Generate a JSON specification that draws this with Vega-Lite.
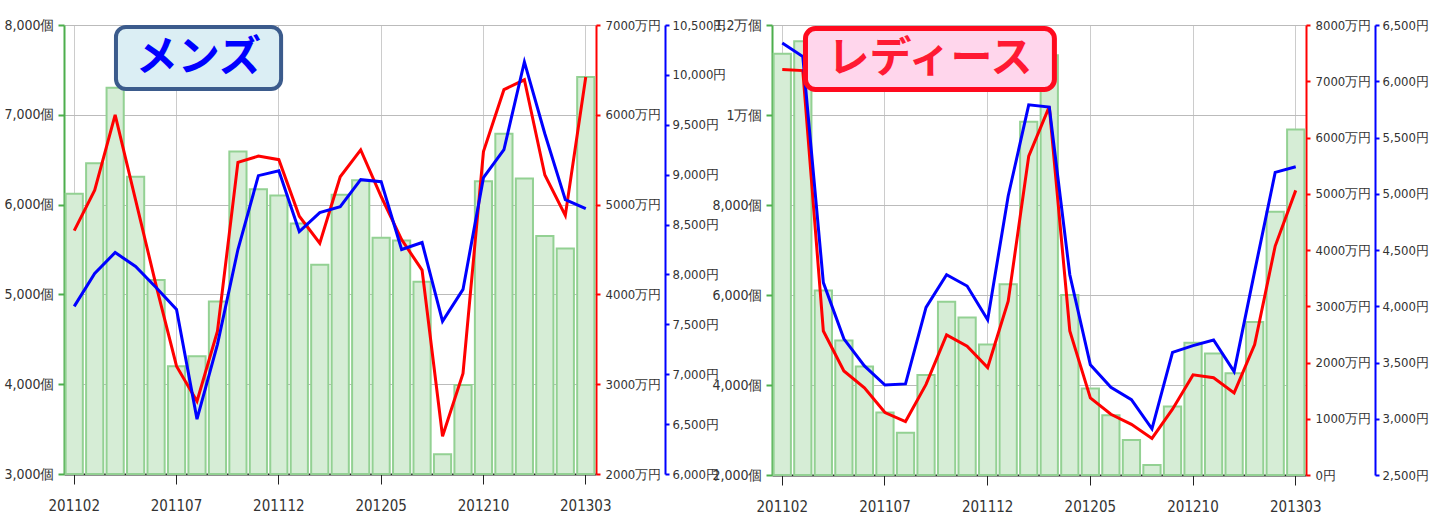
{
  "$schema": "https://vega.github.io/schema/vega-lite/v6.json",
  "background": "white",
  "padding": {"left": 3, "top": 18, "right": 0, "bottom": 0},
  "spacing": 176,
  "bounds": "flush",
  "datasets": {
    "mens": [
      {"month": "201102", "qty": 6120, "sales": 4710, "price": 7680},
      {"month": "201103", "qty": 6460, "sales": 5160, "price": 8010},
      {"month": "201104", "qty": 7300, "sales": 6000, "price": 8220},
      {"month": "201105", "qty": 6310, "sales": 5050, "price": 8080},
      {"month": "201106", "qty": 5160, "sales": 4100, "price": 7870},
      {"month": "201107", "qty": 4200, "sales": 3200, "price": 7650},
      {"month": "201108", "qty": 4310, "sales": 2810, "price": 6550},
      {"month": "201109", "qty": 4920, "sales": 3590, "price": 7300},
      {"month": "201110", "qty": 6590, "sales": 5470, "price": 8250},
      {"month": "201111", "qty": 6170, "sales": 5540, "price": 8990},
      {"month": "201112", "qty": 6100, "sales": 5500, "price": 9040},
      {"month": "201201", "qty": 5790, "sales": 4870, "price": 8430},
      {"month": "201202", "qty": 5330, "sales": 4570, "price": 8620},
      {"month": "201203", "qty": 6110, "sales": 5310, "price": 8680},
      {"month": "201204", "qty": 6270, "sales": 5610, "price": 8950},
      {"month": "201205", "qty": 5630, "sales": 5090, "price": 8930},
      {"month": "201206", "qty": 5600, "sales": 4610, "price": 8250},
      {"month": "201207", "qty": 5140, "sales": 4270, "price": 8320},
      {"month": "201208", "qty": 3220, "sales": 2420, "price": 7530},
      {"month": "201209", "qty": 3990, "sales": 3120, "price": 7850},
      {"month": "201210", "qty": 6260, "sales": 5590, "price": 8970},
      {"month": "201211", "qty": 6790, "sales": 6280, "price": 9250},
      {"month": "201212", "qty": 6290, "sales": 6390, "price": 10130},
      {"month": "201301", "qty": 5650, "sales": 5330, "price": 9410},
      {"month": "201302", "qty": 5510, "sales": 4880, "price": 8750},
      {"month": "201303", "qty": 7420, "sales": 6420, "price": 8660}
    ],
    "ladies": [
      {"month": "201102", "qty": 11360, "sales": 7210, "price": 6340},
      {"month": "201103", "qty": 11640, "sales": 7190, "price": 6220},
      {"month": "201104", "qty": 6100, "sales": 2560, "price": 4210},
      {"month": "201105", "qty": 4990, "sales": 1850, "price": 3710},
      {"month": "201106", "qty": 4410, "sales": 1550, "price": 3470},
      {"month": "201107", "qty": 3390, "sales": 1110, "price": 3300},
      {"month": "201108", "qty": 2940, "sales": 950, "price": 3310},
      {"month": "201109", "qty": 4220, "sales": 1610, "price": 3990},
      {"month": "201110", "qty": 5850, "sales": 2490, "price": 4280},
      {"month": "201111", "qty": 5500, "sales": 2290, "price": 4180},
      {"month": "201112", "qty": 4900, "sales": 1910, "price": 3880},
      {"month": "201201", "qty": 6240, "sales": 3090, "price": 4980},
      {"month": "201202", "qty": 9850, "sales": 5670, "price": 5790},
      {"month": "201203", "qty": 11330, "sales": 6550, "price": 5770},
      {"month": "201204", "qty": 6000, "sales": 2560, "price": 4280},
      {"month": "201205", "qty": 3920, "sales": 1370, "price": 3480},
      {"month": "201206", "qty": 3330, "sales": 1080, "price": 3280},
      {"month": "201207", "qty": 2780, "sales": 900, "price": 3170},
      {"month": "201208", "qty": 2220, "sales": 650, "price": 2910},
      {"month": "201209", "qty": 3520, "sales": 1170, "price": 3590},
      {"month": "201210", "qty": 4940, "sales": 1780, "price": 3650},
      {"month": "201211", "qty": 4700, "sales": 1730, "price": 3700},
      {"month": "201212", "qty": 4260, "sales": 1460, "price": 3420},
      {"month": "201301", "qty": 5400, "sales": 2320, "price": 4310},
      {"month": "201302", "qty": 7850, "sales": 4070, "price": 5190},
      {"month": "201303", "qty": 9680, "sales": 5060, "price": 5240}
    ]
  },
  "hconcat": [
    {
      "width": 532,
      "height": 449,
      "layer": [
        {
          "data": {"name": "mens"},
          "layer": [
            {
              "mark": {"type": "bar", "fill": "#d6edd6", "stroke": "#93d193", "strokeWidth": 2},
              "encoding": {
                "x": {"field": "month", "type": "ordinal", "scale": {"paddingInner": 0.16, "paddingOuter": 0.08},
                  "axis": {"values": ["201102", "201107", "201112", "201205", "201210", "201303"], "grid": true, "gridColor": "#cccccc", "domainColor": "#222222", "domainWidth": 2, "tickColor": "#222222", "tickSize": 10, "labelPadding": 14, "labelAngle": 0, "labelFontSize": 15, "title": null}},
                "y": {"field": "qty", "type": "quantitative", "scale": {"domain": [3000, 8000], "nice": false, "zero": false},
                  "axis": {"orient": "left", "values": [3000, 4000, 5000, 6000, 7000, 8000], "labelExpr": "format(datum.value, ',') + '個'", "grid": true, "gridColor": "#bbbbbb", "domainColor": "#4cae4c", "domainWidth": 2, "tickColor": "#4cae4c", "tickSize": 6, "tickWidth": 2, "labelPadding": 4, "title": null}},
                "y2": {"datum": 3000}
              }
            },
            {
              "mark": {"type": "line", "color": "#ff0000", "strokeWidth": 3},
              "encoding": {
                "x": {"field": "month", "type": "ordinal"},
                "y": {"field": "sales", "type": "quantitative", "scale": {"domain": [2000, 7000], "nice": false, "zero": false},
                  "axis": {"orient": "right", "values": [2000, 3000, 4000, 5000, 6000, 7000], "labelExpr": "datum.value + '万円'", "labelFontSize": 13, "grid": false, "domainColor": "#ff0000", "domainWidth": 2, "tickColor": "#ff0000", "tickSize": 4, "tickWidth": 2, "labelPadding": 5, "title": null}}
              }
            },
            {
              "mark": {"type": "line", "color": "#0000ff", "strokeWidth": 3},
              "encoding": {
                "x": {"field": "month", "type": "ordinal"},
                "y": {"field": "price", "type": "quantitative", "scale": {"domain": [6000, 10500], "nice": false, "zero": false},
                  "axis": {"orient": "right", "offset": 69, "values": [6000, 6500, 7000, 7500, 8000, 8500, 9000, 9500, 10000, 10500], "labelExpr": "format(datum.value, ',') + '円'", "labelFontSize": 13, "grid": false, "domainColor": "#0000ff", "domainWidth": 2, "tickColor": "#0000ff", "tickSize": 4, "tickWidth": 2, "labelPadding": 3, "title": null}}
              }
            }
          ],
          "resolve": {"scale": {"y": "independent"}}
        },
        {
          "data": {"values": [{"label": "メンズ"}]},
          "layer": [
            {
              "mark": {"type": "rect", "fill": "#dbeef4", "stroke": "#3b5b8c", "strokeWidth": 4, "cornerRadius": 10},
              "encoding": {
                "x": {"datum": 2.54, "type": "quantitative", "scale": {"domain": [0, 26], "nice": false, "zero": false}, "axis": null},
                "x2": {"datum": 10.61},
                "y": {"datum": 7978, "type": "quantitative", "scale": {"domain": [3000, 8000], "nice": false, "zero": false}, "axis": null},
                "y2": {"datum": 7287}
              }
            },
            {
              "mark": {"type": "text", "font": "Noto Sans CJK JP", "fontWeight": "bold", "fontSize": 42, "color": "#0000ff", "baseline": "middle", "align": "center"},
              "encoding": {
                "x": {"datum": 6.57, "type": "quantitative"},
                "y": {"datum": 7633, "type": "quantitative"},
                "text": {"field": "label"}
              }
            }
          ]
        }
      ],
      "resolve": {"scale": {"x": "independent", "y": "independent"}}
    },
    {
      "width": 534,
      "height": 450,
      "layer": [
        {
          "data": {"name": "ladies"},
          "layer": [
            {
              "mark": {"type": "bar", "fill": "#d6edd6", "stroke": "#93d193", "strokeWidth": 2},
              "encoding": {
                "x": {"field": "month", "type": "ordinal", "scale": {"paddingInner": 0.16, "paddingOuter": 0.08},
                  "axis": {"values": ["201102", "201107", "201112", "201205", "201210", "201303"], "grid": true, "gridColor": "#cccccc", "domainColor": "#222222", "domainWidth": 2, "tickColor": "#222222", "tickSize": 10, "labelPadding": 14, "labelAngle": 0, "labelFontSize": 15, "title": null}},
                "y": {"field": "qty", "type": "quantitative", "scale": {"domain": [2000, 12000], "nice": false, "zero": false},
                  "axis": {"orient": "left", "values": [2000, 4000, 6000, 8000, 10000, 12000], "labelExpr": "datum.value >= 10000 ? (datum.value / 10000) + '万個' : format(datum.value, ',') + '個'", "grid": true, "gridColor": "#bbbbbb", "domainColor": "#4cae4c", "domainWidth": 2, "tickColor": "#4cae4c", "tickSize": 6, "tickWidth": 2, "labelPadding": 4, "title": null}},
                "y2": {"datum": 2000}
              }
            },
            {
              "mark": {"type": "line", "color": "#ff0000", "strokeWidth": 3},
              "encoding": {
                "x": {"field": "month", "type": "ordinal"},
                "y": {"field": "sales", "type": "quantitative", "scale": {"domain": [0, 8000], "nice": false},
                  "axis": {"orient": "right", "values": [0, 1000, 2000, 3000, 4000, 5000, 6000, 7000, 8000], "labelExpr": "datum.value == 0 ? '0円' : datum.value + '万円'", "labelFontSize": 13, "grid": false, "domainColor": "#ff0000", "domainWidth": 2, "tickColor": "#ff0000", "tickSize": 4, "tickWidth": 2, "labelPadding": 5, "title": null}}
              }
            },
            {
              "mark": {"type": "line", "color": "#0000ff", "strokeWidth": 3},
              "encoding": {
                "x": {"field": "month", "type": "ordinal"},
                "y": {"field": "price", "type": "quantitative", "scale": {"domain": [2500, 6500], "nice": false, "zero": false},
                  "axis": {"orient": "right", "offset": 69, "values": [2500, 3000, 3500, 4000, 4500, 5000, 5500, 6000, 6500], "labelExpr": "format(datum.value, ',') + '円'", "labelFontSize": 13, "grid": false, "domainColor": "#0000ff", "domainWidth": 2, "tickColor": "#0000ff", "tickSize": 4, "tickWidth": 2, "labelPadding": 3, "title": null}}
              }
            }
          ],
          "resolve": {"scale": {"y": "independent"}}
        },
        {
          "data": {"values": [{"label": "レディース"}]},
          "layer": [
            {
              "mark": {"type": "rect", "fill": "#ffd6ec", "stroke": "#ff0a1e", "strokeWidth": 5, "cornerRadius": 10},
              "encoding": {
                "x": {"datum": 1.63, "type": "quantitative", "scale": {"domain": [0, 26], "nice": false, "zero": false}, "axis": null},
                "x2": {"datum": 13.75},
                "y": {"datum": 11922, "type": "quantitative", "scale": {"domain": [2000, 12000], "nice": false, "zero": false}, "axis": null},
                "y2": {"datum": 10567}
              }
            },
            {
              "mark": {"type": "text", "font": "Noto Sans CJK JP", "fontWeight": "bold", "fontSize": 42, "color": "#ff1a33", "baseline": "middle", "align": "center"},
              "encoding": {
                "x": {"datum": 7.69, "type": "quantitative"},
                "y": {"datum": 11244, "type": "quantitative"},
                "text": {"field": "label"}
              }
            }
          ]
        }
      ],
      "resolve": {"scale": {"x": "independent", "y": "independent"}}
    }
  ],
  "config": {
    "view": {"stroke": null},
    "axis": {"labelFont": "Liberation Sans Narrow, DejaVu Sans Condensed, sans-serif", "labelColor": "#333333", "labelFontSize": 14}
  }
}
